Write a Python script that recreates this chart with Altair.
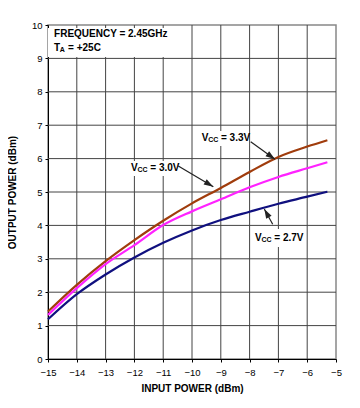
import altair as alt
import pandas as pd

# ---- data ----
input_power = [-15, -14, -13, -12, -11, -10, -9, -8, -7, -6, -5.3]
vcc33 = [1.42, 2.22, 2.93, 3.56, 4.14, 4.66, 5.12, 5.60, 6.05, 6.36, 6.55]
vcc30 = [1.32, 2.12, 2.84, 3.41, 4.01, 4.42, 4.78, 5.14, 5.45, 5.71, 5.89]
vcc27 = [1.19, 1.94, 2.53, 3.04, 3.48, 3.85, 4.16, 4.41, 4.65, 4.86, 5.01]
series_names = ["3.3V", "3.0V", "2.7V"]
series_colors = ["#a03c0c", "#ff22ff", "#10107f"]
x_ticks = [-15, -14, -13, -12, -11, -10, -9, -8, -7, -6, -5]
y_ticks = [0, 1, 2, 3, 4, 5, 6, 7, 8, 9, 10]

# annotation texts
label_main = ["V", "V", "V"]
label_sub = ["CC", "CC", "CC"]
label_rest = ["= 3.3V", "= 3.0V", "= 2.7V"]
label_x = [-9.663, -12.118, -7.812]
label_y = [6.608, 5.704, 3.614]

# white boxes behind annotation texts
box_x = [-15.0, -9.757, -12.222, -7.882]
box_x2 = [-10.69, -8.02, -10.382, -6.042]
box_y = [9.91, 6.826, 5.928, 3.892]
box_y2 = [9.04, 6.377, 5.479, 3.353]

# arrows: start -> tip
arrow_x = [-7.962, -10.476, -7.198]
arrow_y = [6.506, 5.778, 4.033]
arrow_x2 = [-7.118, -9.260, -7.490]
arrow_y2 = [5.979, 5.159, 4.491]
arrow_angle = [125.9, 120.6, 331.2]

FONT = "Liberation Sans"

rows = []
for name, vals in zip(series_names, [vcc33, vcc30, vcc27]):
    for xv, yv in zip(input_power, vals):
        rows.append({"x": xv, "y": yv, "series": name})
df = pd.DataFrame(rows)

boxes = pd.DataFrame({"x": box_x, "x2": box_x2, "y": box_y, "y2": box_y2})
arrows = pd.DataFrame({"x": arrow_x, "y": arrow_y, "x2": arrow_x2,
                       "y2": arrow_y2, "angle": arrow_angle})
labels = pd.DataFrame({"x": label_x, "y": label_y, "main": label_main,
                       "sub": label_sub, "rest": label_rest})
freq = pd.DataFrame({"x": [-14.79], "y": [9.716], "t": ["FREQUENCY = 2.45GHz"]})
temp = pd.DataFrame({"x": [-14.79], "y": [9.326], "main": ["T"], "sub": ["A"],
                     "rest": ["= +25C"]})
vgrid = pd.DataFrame({"x": x_ticks[1:-1]})
hgrid = pd.DataFrame({"y": y_ticks[1:-1]})

xscale = alt.Scale(domain=[-15, -5], nice=False, zero=False)
yscale = alt.Scale(domain=[0, 10], nice=False, zero=False)

xaxis = alt.Axis(values=x_ticks, title="INPUT POWER (dBm)", grid=False,
                 labelOverlap=False, labelFlush=False,
                 labelFont=FONT, labelFontSize=9.5, labelColor="black",
                 labelPadding=5, tickSize=3, tickColor="black",
                 domainColor="black",
                 titleFont=FONT, titleFontSize=10, titleFontWeight="bold",
                 titleColor="black", titlePadding=7)
yaxis = alt.Axis(values=y_ticks, title="OUTPUT POWER (dBm)", grid=False,
                 labelOverlap=False, labelFlush=False,
                 labelFont=FONT, labelFontSize=9.5, labelColor="black",
                 labelPadding=3, tickSize=3, tickColor="black",
                 domainColor="black",
                 titleFont=FONT, titleFontSize=10, titleFontWeight="bold",
                 titleColor="black", titlePadding=14)

X = alt.X("x:Q", scale=xscale, axis=xaxis)
Y = alt.Y("y:Q", scale=yscale, axis=yaxis)

GRID = "#444444"
vgrid_layer = alt.Chart(vgrid).mark_rule(color=GRID, strokeWidth=1).encode(x=X)
hgrid_layer = alt.Chart(hgrid).mark_rule(color=GRID, strokeWidth=1).encode(y=Y)

box_layer = alt.Chart(boxes).mark_rect(color="white").encode(
    x=X, x2="x2:Q", y=Y, y2="y2:Q")

lines = alt.Chart(df).mark_line(strokeWidth=2.2, interpolate="monotone").encode(
    x=X, y=Y,
    color=alt.Color("series:N", scale=alt.Scale(domain=series_names,
                                                range=series_colors), legend=None),
    order=alt.Order("x:Q"),
)

arrow_lines = alt.Chart(arrows).mark_rule(color="#222222", strokeWidth=1.2).encode(
    x=X, y=Y, x2="x2:Q", y2="y2:Q")

arrow_heads = alt.Chart(arrows).mark_point(
    shape="M0,0L-0.65,2L0.65,2Z", filled=True, color="#222222", opacity=1,
    size=90).encode(
    x=alt.X("x2:Q", scale=xscale, axis=xaxis),
    y=alt.Y("y2:Q", scale=yscale, axis=yaxis),
    angle=alt.Angle("angle:Q", scale=None))

def text_layers(data, sub_dx, rest_dx):
    base = alt.Chart(data)
    t1 = base.mark_text(font=FONT, fontSize=10, fontWeight="bold", align="left",
                        baseline="middle", color="black").encode(
        x=X, y=Y, text="main:N")
    t2 = base.mark_text(font=FONT, fontSize=7, fontWeight="bold", align="left",
                        baseline="middle", color="black", dx=sub_dx, dy=2).encode(
        x=X, y=Y, text="sub:N")
    t3 = base.mark_text(font=FONT, fontSize=10, fontWeight="bold", align="left",
                        baseline="middle", color="black", dx=rest_dx).encode(
        x=X, y=Y, text="rest:N")
    return [t1, t2, t3]

freq_text = alt.Chart(freq).mark_text(font=FONT, fontSize=10, fontWeight="bold",
                                      align="left", baseline="middle",
                                      color="black").encode(
    x=X, y=Y, text="t:N")

layers = [vgrid_layer, hgrid_layer, box_layer, lines, arrow_lines, arrow_heads,
          freq_text]
layers += text_layers(temp, 5.8, 14)
layers += text_layers(labels, 6.5, 19.3)

chart = alt.layer(*layers).properties(
    width=288, height=334,
    autosize=alt.AutoSizeParams(type="none"),
    padding={"left": 40, "top": 17, "right": 16, "bottom": 41},
    background="white",
).configure_view(stroke="#888888", strokeWidth=1.5)

chart.save("out.html", embed_options={"renderer": "svg", "actions": False})
